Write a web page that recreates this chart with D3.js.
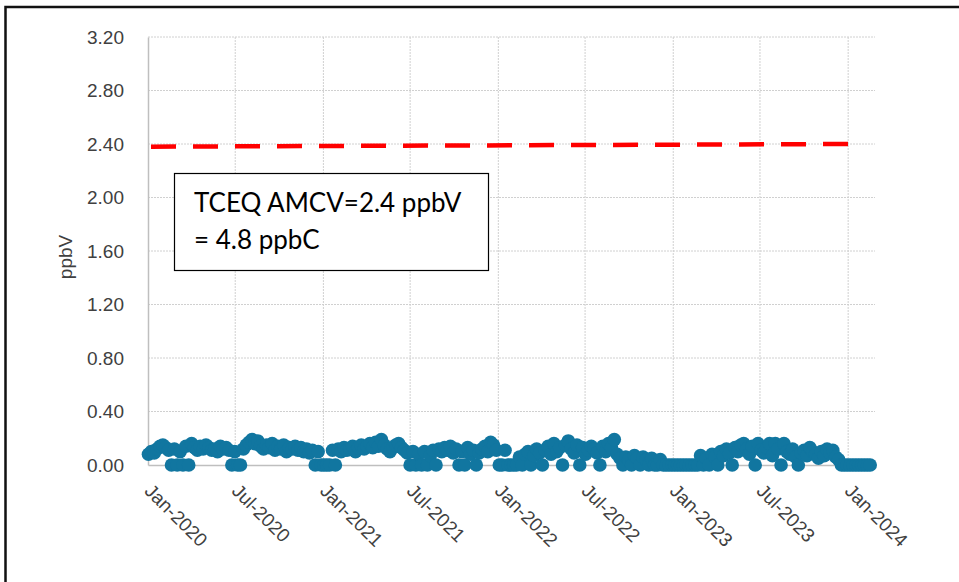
<!DOCTYPE html>
<html><head><meta charset="utf-8">
<script src="https://cdn.jsdelivr.net/npm/d3@7"></script>
<style>html,body{margin:0;padding:0;background:#fff;}svg{display:block;}</style>
</head><body>
<svg id="c" width="959" height="582"></svg>
<script>
// ---- data ----
const startDate = "2020-01-02";   // first 24-hr sample; samples every 6 days
const intervalDays = 6;
const values = [
 0.08,0.10,0.09,0.12,0.14,0.15,0.13,0.11,0.00,0.12,0.00,0.10,0.00,0.14,0.00,0.16,0.13,0.11,0.14,0.12,0.15,0.13,0.11,0.12,0.10,0.14,0.12,0.13,0.11,0.00,0.10,
 0.00,0.00,0.12,0.15,0.17,0.19,0.16,0.18,0.14,0.12,0.15,0.13,0.16,0.11,0.14,0.12,0.15,0.10,0.13,0.12,0.14,0.11,0.13,0.10,0.12,0.09,0.11,0.00,0.10,0.00,0.00,
 0.00,0.00,0.11,0.00,0.12,0.10,0.13,0.11,0.12,0.14,0.10,0.13,0.15,0.12,0.14,0.16,0.13,0.17,0.14,0.19,0.15,0.12,0.10,0.13,0.15,0.16,0.13,0.11,0.09,0.00,0.10,
 0.00,0.08,0.00,0.10,0.00,0.07,0.11,0.00,0.12,0.10,0.13,0.11,0.14,0.09,0.12,0.00,0.10,0.00,0.13,0.08,0.11,0.00,0.09,0.12,0.14,0.10,0.17,0.15,0.11,0.00,0.00,
 0.11,0.00,0.00,0.00,0.00,0.06,0.00,0.08,0.10,0.00,0.07,0.12,0.09,0.00,0.11,0.14,0.08,0.16,0.10,0.13,0.00,0.15,0.18,0.12,0.09,0.15,0.00,0.13,0.08,0.11,0.14,
 0.12,0.09,0.00,0.14,0.10,0.16,0.13,0.19,0.08,0.05,0.00,0.06,0.04,0.00,0.07,0.05,0.00,0.06,0.04,0.00,0.05,0.00,0.00,0.04,0.00,0.00,0.00,0.00,0.00,0.00,0.00,
 0.00,0.00,0.00,0.00,0.00,0.00,0.07,0.00,0.05,0.00,0.08,0.06,0.00,0.10,0.07,0.12,0.09,0.00,0.13,0.10,0.15,0.16,0.12,0.08,0.14,0.00,0.16,0.11,0.09,0.13,0.16,
 0.07,0.16,0.12,0.00,0.16,0.10,0.08,0.12,0.06,0.00,0.09,0.11,0.07,0.13,0.10,0.08,0.05,0.10,0.07,0.12,0.09,0.11,0.06,0.04,0.00,0.00,0.00,0.00,0.00,0.00,0.00,
 0.00,0.00,0.00,0.00
];
const amcvDates = ["2020-01-01","2024-01-01"];
const amcvValues = [2.38, 2.40];
const yTicks = [0,0.4,0.8,1.2,1.6,2.0,2.4,2.8,3.2];
const xTickDates = ["2020-01-01","2020-07-01","2021-01-01","2021-07-01","2022-01-01","2022-07-01","2023-01-01","2023-07-01","2024-01-01"];
const xDomain = ["2020-01-01","2024-02-26"];
const yLabel = "ppbV";
const noteLines = ["TCEQ AMCV=2.4 ppbV","= 4.8 ppbC"];

// ---- drawing ----
const parse = d3.utcParse("%Y-%m-%d");
const fmt = d3.utcFormat("%b-%Y");
const t0 = parse(startDate);
const pts = values.map((v,i)=>({date:d3.utcDay.offset(t0, i*intervalDays), v}));

const L=148, R=875, T=37, B=465;
const svg = d3.select("#c");
const x = d3.scaleUtc().domain(xDomain.map(parse)).range([L,R]);
const y = d3.scaleLinear().domain([0,3.2]).range([B,T]);

// outer frame
svg.append("rect").attr("x",5.5).attr("y",7).attr("width",1000).attr("height",600)
  .attr("fill","none").attr("stroke","#111").attr("stroke-width",2.5);

// gridlines
const g = svg.append("g");
g.selectAll(".hg").data(yTicks.slice(1)).join("line")
  .attr("x1",L).attr("x2",R).attr("y1",d=>y(d)).attr("y2",d=>y(d))
  .attr("stroke","#d0d0d0").attr("stroke-width",1).attr("stroke-dasharray","2,1");
g.selectAll(".vg").data(xTickDates.slice(1)).join("line")
  .attr("x1",d=>x(parse(d))).attr("x2",d=>x(parse(d))).attr("y1",T).attr("y2",B)
  .attr("stroke","#d0d0d0").attr("stroke-width",1).attr("stroke-dasharray","2,1");

// axes
const yAxis = d3.axisLeft(y).tickValues(yTicks).tickFormat(d3.format(".2f")).tickSize(0).tickPadding(24);
const ya = svg.append("g").attr("transform",`translate(${L},0)`).call(yAxis);
ya.select(".domain").attr("stroke","#bfbfbf").attr("stroke-width",1.5);
ya.selectAll("text").attr("font-family","'Liberation Sans', Arial, sans-serif").attr("font-size",19).attr("fill","#404040");

const xAxis = d3.axisBottom(x).tickValues(xTickDates.map(parse)).tickFormat(fmt).tickSize(0);
const xa = svg.append("g").attr("transform",`translate(0,${B})`).call(xAxis);
xa.select(".domain").attr("stroke","#bfbfbf").attr("stroke-width",1.5);
xa.selectAll("text").attr("font-family","'Liberation Sans', Arial, sans-serif").attr("font-size",19).attr("fill","#404040")
  .attr("text-anchor","start").attr("dy",0).attr("y",0)
  .attr("transform","translate(-5,27) rotate(45)");

// y label
svg.append("text").attr("transform",`translate(72,${(T+B)/2+6}) rotate(-90)`)
  .attr("text-anchor","middle").attr("font-family","'Liberation Sans', Arial, sans-serif")
  .attr("font-size",19).attr("fill","#404040").text(yLabel);

// AMCV line
const amcv = amcvDates.map((d,i)=>({date:parse(d), v:amcvValues[i]}));
svg.append("path").datum(amcv)
  .attr("d", d3.line().x(d=>x(d.date)).y(d=>y(d.v)))
  .attr("fill","none").attr("stroke","#ff0000").attr("stroke-width",4.5)
  .attr("stroke-dasharray","25,17").attr("stroke-dashoffset",-3);

// data points
svg.append("g").selectAll("circle").data(pts).join("circle")
  .attr("cx",d=>x(d.date)).attr("cy",d=>y(d.v)).attr("r",6.8)
  .attr("fill","#1176a0");

// note box
const nb = svg.append("g");
nb.append("rect").attr("x",174.5).attr("y",173.5).attr("width",314).attr("height",97)
  .attr("fill","#fff").attr("stroke","#000").attr("stroke-width",1.2);
nb.selectAll("text").data(noteLines).join("text")
  .attr("x",194).attr("y",(d,i)=>212+i*37)
  .attr("font-family","Lato, 'Open Sans', sans-serif").attr("font-size",26).attr("fill","#000")
  .text(d=>d);
</script>
</body></html>
